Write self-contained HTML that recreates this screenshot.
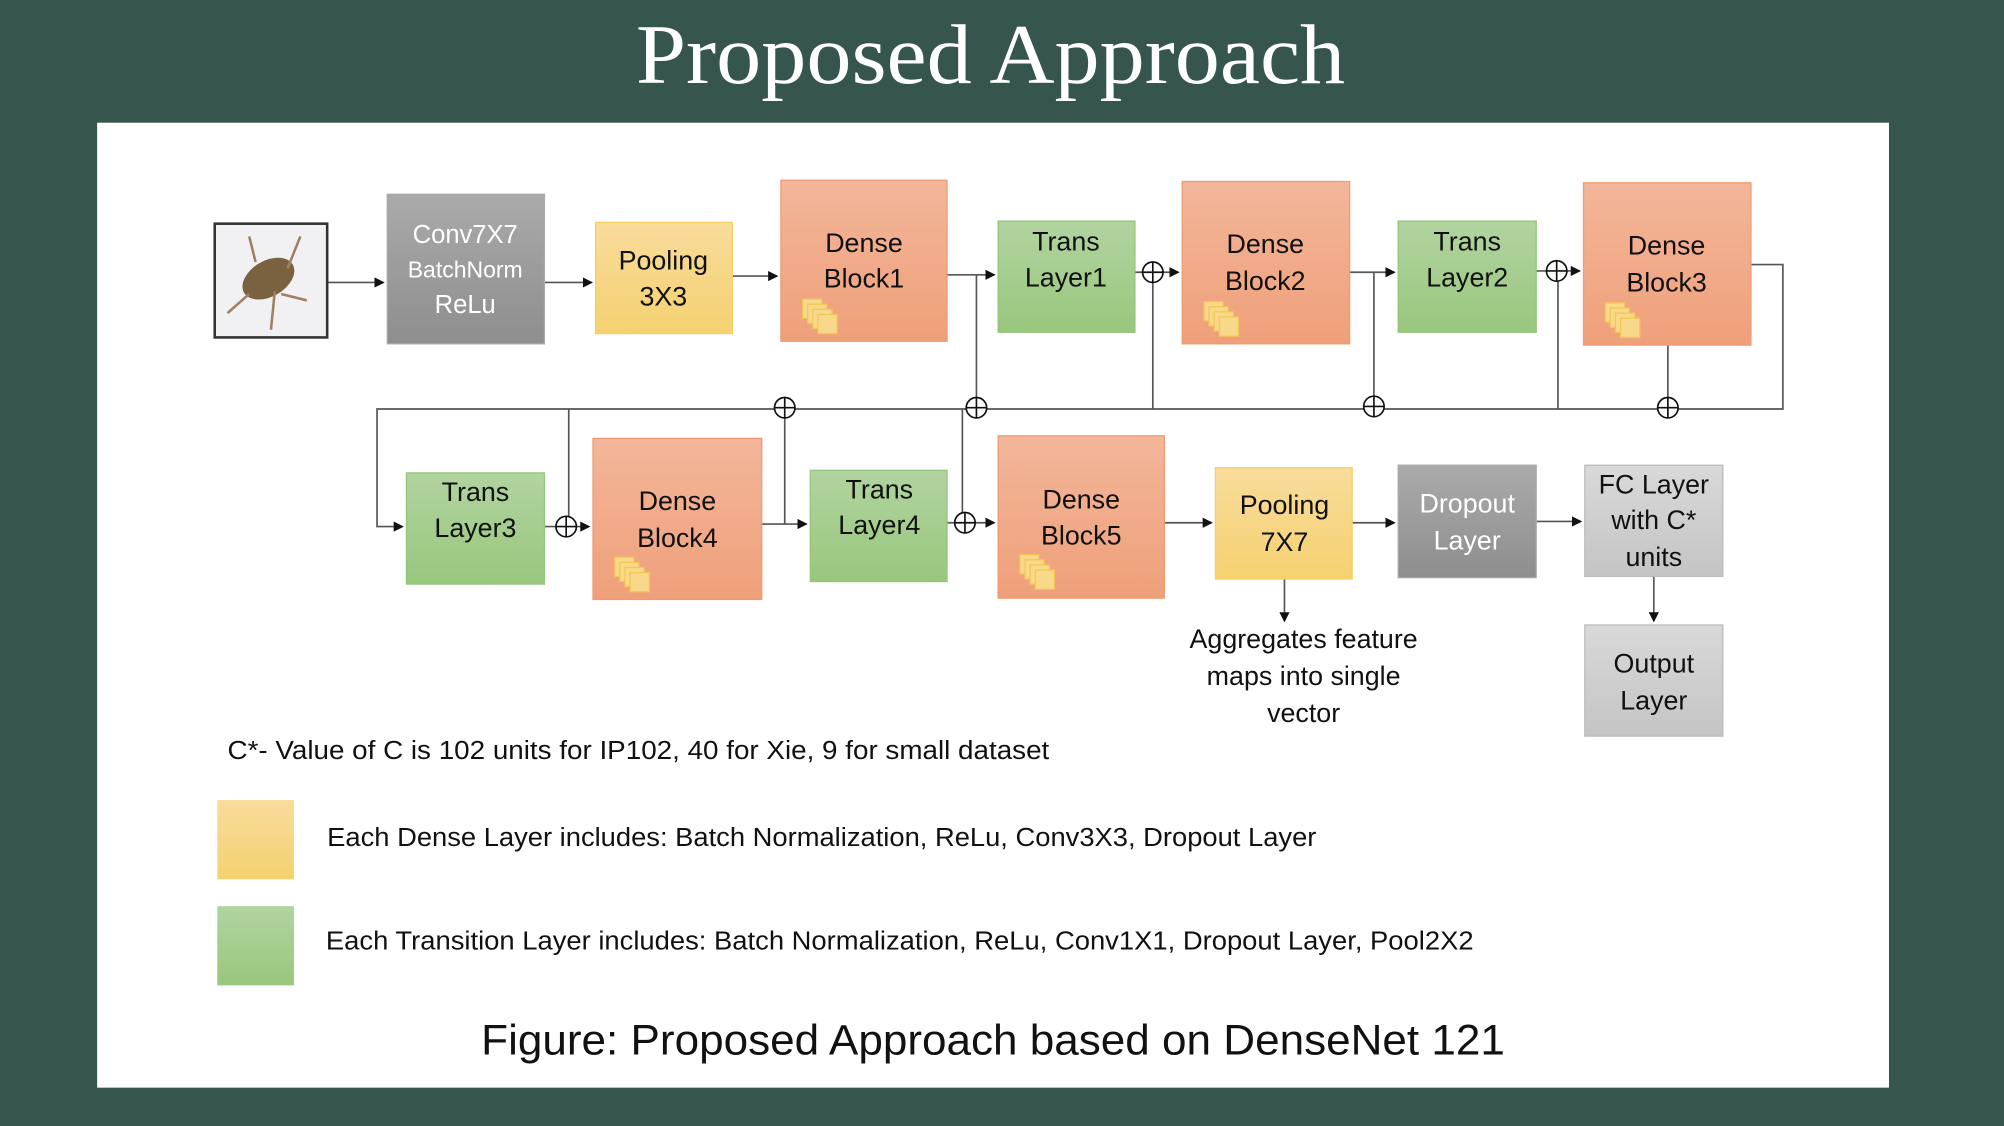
<!DOCTYPE html>
<html><head><meta charset="utf-8"><style>html,body{margin:0;padding:0;background:#37554f}svg{display:block}</style></head>
<body>
<svg width="2004" height="1126" viewBox="0 0 1568 881" xmlns="http://www.w3.org/2000/svg" font-family="Liberation Sans, sans-serif">
<defs>
<linearGradient id="gr" x1="0" y1="0" x2="0" y2="1"><stop offset="0" stop-color="#aaaaaa"/><stop offset="1" stop-color="#8e8e8e"/></linearGradient>
<linearGradient id="lg" x1="0" y1="0" x2="0" y2="1"><stop offset="0" stop-color="#d9d9d9"/><stop offset="1" stop-color="#c4c4c4"/></linearGradient>
<linearGradient id="ye" x1="0" y1="0" x2="0" y2="1"><stop offset="0" stop-color="#f8dc9c"/><stop offset="1" stop-color="#f5d170"/></linearGradient>
<linearGradient id="sa" x1="0" y1="0" x2="0" y2="1"><stop offset="0" stop-color="#f3b69a"/><stop offset="1" stop-color="#efa07a"/></linearGradient>
<linearGradient id="gn" x1="0" y1="0" x2="0" y2="1"><stop offset="0" stop-color="#b2d4a0"/><stop offset="1" stop-color="#98c77d"/></linearGradient>
<marker id="a" markerWidth="8" markerHeight="8" refX="7" refY="4" orient="auto" markerUnits="userSpaceOnUse"><path d="M0,0 L8,4 L0,8z" fill="#111"/></marker>
<g id="stk"><rect x="0" y="0" width="15" height="15" fill="#f8d98a" stroke="#f3c658"/><rect x="4" y="4" width="15" height="15" fill="#f8d98a" stroke="#f3c658"/><rect x="8" y="8" width="15" height="15" fill="#f8d98a" stroke="#f3c658"/><rect x="12" y="12" width="15" height="15" fill="#f8d98a" stroke="#f3c658"/></g>
<g id="ox"><circle r="8" fill="#fff" stroke="#111" stroke-width="1.3"/><path d="M-8,0H8M0,-8V8" stroke="#111" stroke-width="1.3"/></g>
</defs>
<rect width="1568" height="881" fill="#37554f"/>
<text x="775" y="65" text-anchor="middle" font-family="Liberation Serif, serif" font-size="66" fill="#fff" textLength="555" lengthAdjust="spacingAndGlyphs">Proposed Approach</text>
<rect x="76" y="96" width="1402" height="755" fill="#fff"/>

<g stroke="#555" stroke-width="1.3" fill="none">
<path d="M256,221 H300" marker-end="url(#a)"/>
<path d="M426,221 H463" marker-end="url(#a)"/>
<path d="M573,216 H608" marker-end="url(#a)"/>
<path d="M741,215 H778" marker-end="url(#a)"/>
<path d="M888,213 H922" marker-end="url(#a)"/>
<path d="M1056,213 H1091" marker-end="url(#a)"/>
<path d="M1202,212 H1236" marker-end="url(#a)"/>
<path d="M1370,207 H1395 V320 H295 V412 H315" marker-end="url(#a)"/>
<path d="M764,215 V320 M902,213 V320 M1075,213 V320 M1219,212 V320 M1305,270 V320"/>
<path d="M445,320 V412 M614,320 V410 M753,320 V409"/>
<path d="M426,412 H461" marker-end="url(#a)"/>
<path d="M596,410 H631" marker-end="url(#a)"/>
<path d="M741,409 H778" marker-end="url(#a)"/>
<path d="M911,409 H948" marker-end="url(#a)"/>
<path d="M1058,409 H1091" marker-end="url(#a)"/>
<path d="M1202,408 H1237" marker-end="url(#a)"/>
<path d="M1294,451 V486" marker-end="url(#a)"/>
<path d="M1005,453 V486" marker-end="url(#a)"/>
</g>
<use href="#ox" x="902" y="213"/><use href="#ox" x="1218" y="212"/>
<use href="#ox" x="614" y="319"/><use href="#ox" x="764" y="319"/><use href="#ox" x="1075" y="318"/><use href="#ox" x="1305" y="319"/>
<use href="#ox" x="443" y="412"/><use href="#ox" x="755" y="409"/>

<rect x="168" y="175" width="88" height="89" fill="#f1f1f3" stroke="#333" stroke-width="2"/>
<ellipse cx="210" cy="218" rx="22" ry="14" fill="#7a6240" transform="rotate(-30 210 218)"/>
<path d="M195,230 L178,245 M225,210 L235,185 M220,230 L240,235 M200,205 L195,185 M215,228 L212,258" stroke="#a08060" stroke-width="2"/>

<rect x="303" y="152" width="123" height="117" fill="url(#gr)" stroke="#aaa"/>
<g fill="#fff" text-anchor="middle" font-size="20"><text x="364" y="190">Conv7X7</text><text x="364" y="217" font-size="18">BatchNorm</text><text x="364" y="245">ReLu</text></g>

<g fill="#111" text-anchor="middle" font-size="21">
<rect x="466" y="174" width="107" height="87" fill="url(#ye)" stroke="#f5cf60"/><text x="519" y="211">Pooling</text><text x="519" y="239">3X3</text>
<rect x="611" y="141" width="130" height="126" fill="url(#sa)" stroke="#ef9a70"/><text x="676" y="197">Dense</text><text x="676" y="225">Block1</text>
<rect x="781" y="173" width="107" height="87" fill="url(#gn)" stroke="#95c47c"/><text x="834" y="196">Trans</text><text x="834" y="224">Layer1</text>
<rect x="925" y="142" width="131" height="127" fill="url(#sa)" stroke="#ef9a70"/><text x="990" y="198">Dense</text><text x="990" y="227">Block2</text>
<rect x="1094" y="173" width="108" height="87" fill="url(#gn)" stroke="#95c47c"/><text x="1148" y="196">Trans</text><text x="1148" y="224">Layer2</text>
<rect x="1239" y="143" width="131" height="127" fill="url(#sa)" stroke="#ef9a70"/><text x="1304" y="199">Dense</text><text x="1304" y="228">Block3</text>
<rect x="318" y="370" width="108" height="87" fill="url(#gn)" stroke="#95c47c"/><text x="372" y="392">Trans</text><text x="372" y="420">Layer3</text>
<rect x="464" y="343" width="132" height="126" fill="url(#sa)" stroke="#ef9a70"/><text x="530" y="399">Dense</text><text x="530" y="428">Block4</text>
<rect x="634" y="368" width="107" height="87" fill="url(#gn)" stroke="#95c47c"/><text x="688" y="390">Trans</text><text x="688" y="418">Layer4</text>
<rect x="781" y="341" width="130" height="127" fill="url(#sa)" stroke="#ef9a70"/><text x="846" y="398">Dense</text><text x="846" y="426">Block5</text>
<rect x="951" y="366" width="107" height="87" fill="url(#ye)" stroke="#f5cf60"/><text x="1005" y="402">Pooling</text><text x="1005" y="431">7X7</text>
<rect x="1094" y="364" width="108" height="88" fill="url(#gr)" stroke="#aaa"/><text x="1148" y="401" fill="#fff">Dropout</text><text x="1148" y="430" fill="#fff">Layer</text>
<rect x="1240" y="364" width="108" height="87" fill="url(#lg)" stroke="#bbb"/><text x="1294" y="386">FC Layer</text><text x="1294" y="414">with C*</text><text x="1294" y="443">units</text>
<rect x="1240" y="489" width="108" height="87" fill="url(#lg)" stroke="#bbb"/><text x="1294" y="526">Output</text><text x="1294" y="555">Layer</text>
<text x="1020" y="507">Aggregates feature</text><text x="1020" y="536">maps into single</text><text x="1020" y="565">vector</text>
</g>
<use href="#stk" x="628" y="234"/><use href="#stk" x="942" y="236"/><use href="#stk" x="1256" y="237"/><use href="#stk" x="481" y="436"/><use href="#stk" x="798" y="434"/>

<text x="178" y="594" font-size="20" fill="#111" textLength="643" lengthAdjust="spacingAndGlyphs">C*- Value of C is 102 units for IP102, 40 for Xie, 9 for small dataset</text>
<rect x="170" y="626" width="60" height="62" fill="url(#ye)"/>
<text x="256" y="662" font-size="20" fill="#111" textLength="774" lengthAdjust="spacingAndGlyphs">Each Dense Layer includes: Batch Normalization, ReLu, Conv3X3, Dropout Layer</text>
<rect x="170" y="709" width="60" height="62" fill="url(#gn)"/>
<text x="255" y="743" font-size="20" fill="#111" textLength="898" lengthAdjust="spacingAndGlyphs">Each Transition Layer includes: Batch Normalization, ReLu, Conv1X1, Dropout Layer, Pool2X2</text>
<text x="777" y="825" text-anchor="middle" font-size="33" fill="#111" textLength="801" lengthAdjust="spacingAndGlyphs">Figure: Proposed Approach based on DenseNet 121</text>
</svg>
</body></html>
